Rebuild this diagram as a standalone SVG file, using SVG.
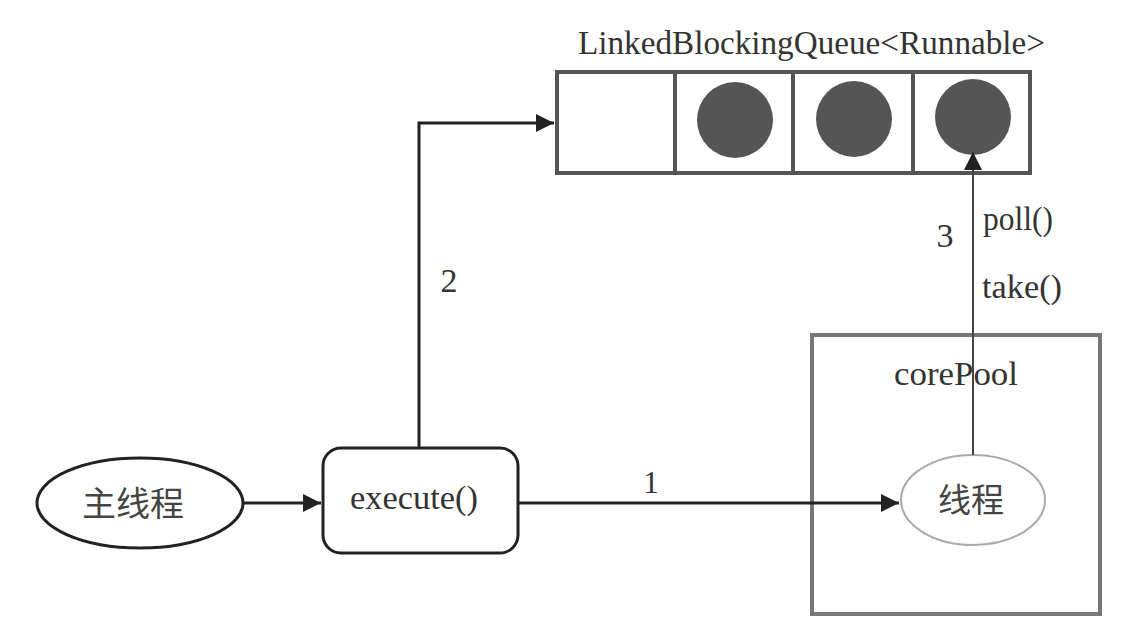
<svg xmlns="http://www.w3.org/2000/svg" width="1134" height="631" viewBox="0 0 1134 631">
<style>
.t{font-family:"Liberation Serif","Times New Roman",serif;fill:#333}
.cjk{font-family:"Noto Sans CJK SC",sans-serif;fill:#444}
.cell{fill:#fff;stroke:#555;stroke-width:4}
.dot{fill:#555}
.edge{fill:none;stroke:#222;stroke-width:3}
</style>
<defs>
<marker id="ah" viewBox="0 0 10 10" refX="10" refY="5" markerWidth="6.5" markerHeight="6" markerUnits="strokeWidth" orient="auto"><path d="M0,0 L10,5 L0,10 z" fill="#222"/></marker>
<marker id="ah2" viewBox="0 0 10 10" refX="10" refY="5" markerWidth="9" markerHeight="9" markerUnits="strokeWidth" orient="auto"><path d="M0,0 L10,5 L0,10 z" fill="#222"/></marker>
</defs>
<rect width="1134" height="631" fill="#fff"/>
<g id="queue">
<text class="t" x="578" y="54" font-size="34" textLength="467" lengthAdjust="spacingAndGlyphs">LinkedBlockingQueue&lt;Runnable&gt;</text>
<rect class="cell" x="557" y="72" width="118" height="101"/>
<rect class="cell" x="675" y="72" width="118" height="101"/>
<rect class="cell" x="793" y="72" width="120" height="101"/>
<rect class="cell" x="913" y="72" width="117" height="101"/>
<circle class="dot" cx="735" cy="120" r="38"/>
<circle class="dot" cx="854" cy="119" r="38"/>
<circle class="dot" cx="973" cy="117" r="38"/>
</g>
<g id="corePool">
<rect x="812" y="335" width="288" height="279" fill="none" stroke="#777" stroke-width="4"/>
<text class="t" x="894" y="385" font-size="34" textLength="124" lengthAdjust="spacingAndGlyphs">corePool</text>
</g>
<g id="main">
<ellipse cx="140" cy="503" rx="103" ry="45" fill="#fff" stroke="#222" stroke-width="3"/>
<text class="cjk" x="133" y="516" font-size="34" text-anchor="middle">主线程</text>
</g>
<g id="execute">
<rect x="323" y="448" width="195" height="105" rx="18" fill="#fff" stroke="#222" stroke-width="3"/>
<text class="t" x="350" y="509" font-size="34" textLength="128" lengthAdjust="spacingAndGlyphs">execute()</text>
</g>
<g id="thread">
<ellipse cx="973" cy="500" rx="72" ry="45" fill="#fff" stroke="#aaa" stroke-width="2"/>
<text class="cjk" x="971" y="512" font-size="33" text-anchor="middle">线程</text>
</g>
<g id="connectors">
<path class="edge" d="M243,503 L321,503" marker-end="url(#ah)"/>
<path class="edge" d="M518,503 L899,503" marker-end="url(#ah)"/>
<path class="edge" d="M419,448 L419,123 L554,123" marker-end="url(#ah)"/>
<path d="M973,455 L973,152" fill="none" stroke="#444" stroke-width="2" marker-end="url(#ah2)"/>
<text class="t" x="651" y="493" font-size="31" text-anchor="middle">1</text>
<text class="t" x="449" y="292" font-size="34" text-anchor="middle">2</text>
<text class="t" x="945" y="247" font-size="34" text-anchor="middle">3</text>
<text class="t" x="983" y="230" font-size="34" textLength="70" lengthAdjust="spacingAndGlyphs">poll()</text>
<text class="t" x="982" y="298" font-size="34" textLength="80" lengthAdjust="spacingAndGlyphs">take()</text>
</g>
</svg>
